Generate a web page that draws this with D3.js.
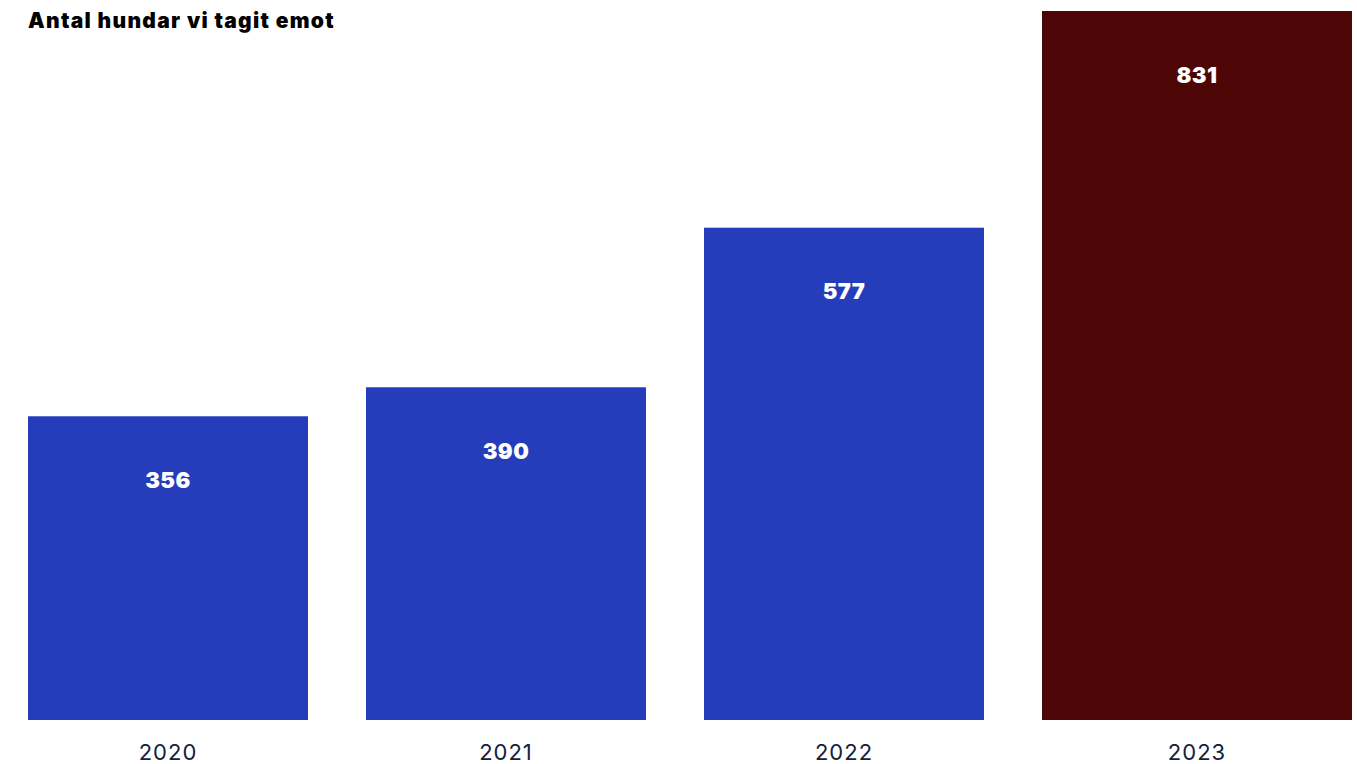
<!DOCTYPE html>
<html>
<head>
<meta charset="utf-8">
<script src="https://cdn.jsdelivr.net/npm/d3@7"></script>
<style>
  body { margin: 0; background: #fff; }
  svg { display: block; }
</style>
</head>
<body>
<div id="wrapper"></div>
<script>
var years = ["2020", "2021", "2022", "2023"];
var dogs = [356, 390, 577, 831];
var highlightYear = "2023";

var dataset = years.map((y, i) => ({year: y, count: dogs[i]}));

drawBarChart(dataset, '#wrapper');

function drawBarChart(dataset, dom_element_to_append_to) {
    var width = 1357,
        height = 764,
        bottom = 720,
        extra = 30; // highlighted bar is a bit wider

    var svg = d3.select(dom_element_to_append_to)
        .append("svg")
        .attr("width", width)
        .attr("height", height);

    var x = d3.scaleBand()
        .domain(dataset.map(d => d.year))
        .range([28, 1322])
        .paddingInner(58 / 338)
        .paddingOuter(0);

    var y = d3.scaleLinear()
        .domain([0, d3.max(dataset, d => d.count)])
        .range([bottom, 11]);

    var w = d => x.bandwidth() + (d.year == highlightYear ? extra : 0);

    svg.append("text")
        .attr("x", 28)
        .attr("y", 28)
        .style("font-family", "Inter, sans-serif")
        .style("font-weight", 900)
        .style("font-size", "21px")
        .style("letter-spacing", "1.3px")
        .style("fill", "#000")
        .text("Antal hundar vi tagit emot");

    svg.selectAll("rect")
        .data(dataset)
        .enter()
        .append("rect")
        .attr("x", d => x(d.year))
        .attr("y", d => y(d.count))
        .attr("width", w)
        .attr("height", d => bottom - y(d.count))
        .style("fill", d => d.year == highlightYear ? "#4d0605" : "#263dbb");

    svg.selectAll(".val")
        .data(dataset)
        .enter()
        .append("text")
        .attr("class", "val")
        .attr("x", d => x(d.year) + w(d) / 2)
        .attr("y", d => y(d.count) + 64)
        .attr("dy", "0.35em")
        .attr("text-anchor", "middle")
        .style("font-family", "Inter, sans-serif")
        .style("font-weight", 900)
        .style("font-size", "22px")
        .style("letter-spacing", "0.5px")
        .style("fill", "#fff")
        .text(d => d.count);

    svg.selectAll(".yr")
        .data(dataset)
        .enter()
        .append("text")
        .attr("class", "yr")
        .attr("x", d => x(d.year) + w(d) / 2)
        .attr("y", 752)
        .attr("dy", "0.35em")
        .attr("text-anchor", "middle")
        .style("font-family", "Inter, sans-serif")
        .style("font-size", "22px")
        .style("letter-spacing", "1px")
        .style("fill", "#14213d")
        .text(d => d.year);
}
</script>
</body>
</html>
